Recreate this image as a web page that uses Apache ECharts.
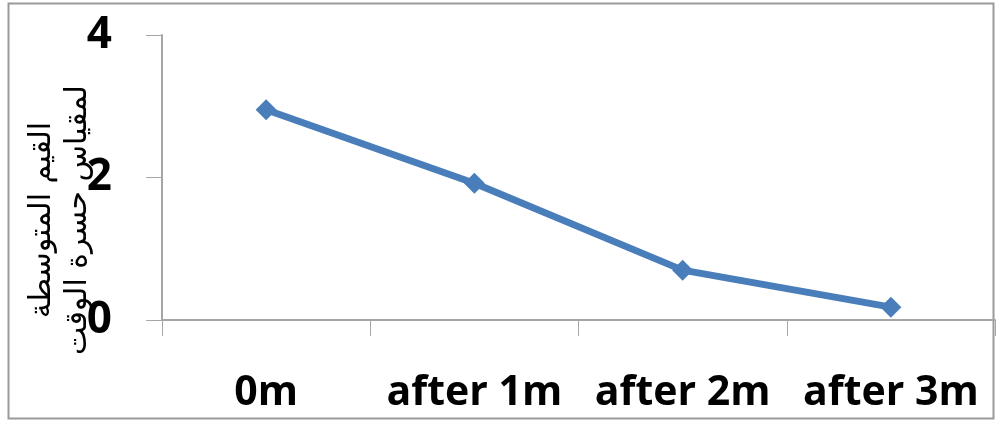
<!DOCTYPE html>
<html>
<head>
<meta charset="utf-8">
<script src="https://cdn.jsdelivr.net/npm/echarts@6/dist/echarts.min.js"></script>
<style>
  html, body { margin: 0; padding: 0; background: #fff; }
  #chart { width: 996px; height: 423px; }
</style>
</head>
<body>
<div id="chart"></div>
<script>
// Time points and mean scale values
const categories = ['0m', 'after 1m', 'after 2m', 'after 3m'];
const meanValues = [2.95, 1.92, 0.70, 0.18];
const yTicks = { min: 0, max: 4, interval: 2 };
const axisTitle = 'القيم المتوسطة\nلمقياس حسرة الوقت';

const chart = echarts.init(document.getElementById('chart'), null, { renderer: 'canvas' });

const axisGrey = '#a6a6a6';
const labelFont = '"Open Sans", sans-serif';

chart.setOption({
  animation: false,
  backgroundColor: '#ffffff',
  grid: { left: 162, right: 1, top: 35, bottom: 103, containLabel: false },
  xAxis: {
    type: 'category',
    data: categories,
    boundaryGap: true,
    axisLine: { show: true, lineStyle: { color: axisGrey, width: 2 } },
    axisTick: { show: true, alignWithLabel: false, length: 16, lineStyle: { color: axisGrey, width: 1 } },
    axisLabel: {
      interval: 0,
      hideOverlap: false,
      color: '#000', fontSize: 41, fontWeight: 'bold', fontFamily: labelFont, margin: 53
    },
    splitLine: { show: false }
  },
  yAxis: {
    type: 'value',
    min: yTicks.min,
    max: yTicks.max,
    interval: yTicks.interval,
    axisLine: { show: true, lineStyle: { color: axisGrey, width: 2 } },
    axisTick: { show: true, length: 16, lineStyle: { color: axisGrey, width: 1 } },
    axisLabel: {
      color: '#000', fontSize: 44, fontWeight: 'bold', fontFamily: labelFont, margin: 50
    },
    splitLine: { show: false }
  },
  series: [{
    type: 'line',
    data: meanValues,
    symbol: 'diamond',
    symbolSize: 21,
    lineStyle: { color: '#4a7ebb', width: 7 },
    itemStyle: { color: '#4a7ebb' },
    z: 3
  }],
  graphic: [
    {
      type: 'rect',
      shape: { x: 8.5, y: 3.5, width: 985, height: 415 },
      style: { fill: 'none', stroke: '#9a9a9a', lineWidth: 2 },
      silent: true,
      z: -1
    },
    {
      type: 'text',
      x: 60,
      y: 220,
      rotation: Math.PI / 2,
      style: {
        text: axisTitle,
        fill: '#000',
        font: '30px "DejaVu Sans", "Noto Sans", sans-serif',
        lineHeight: 36,
        align: 'center',
        verticalAlign: 'middle'
      },
      z: 10
    }
  ]
});
</script>
</body>
</html>
